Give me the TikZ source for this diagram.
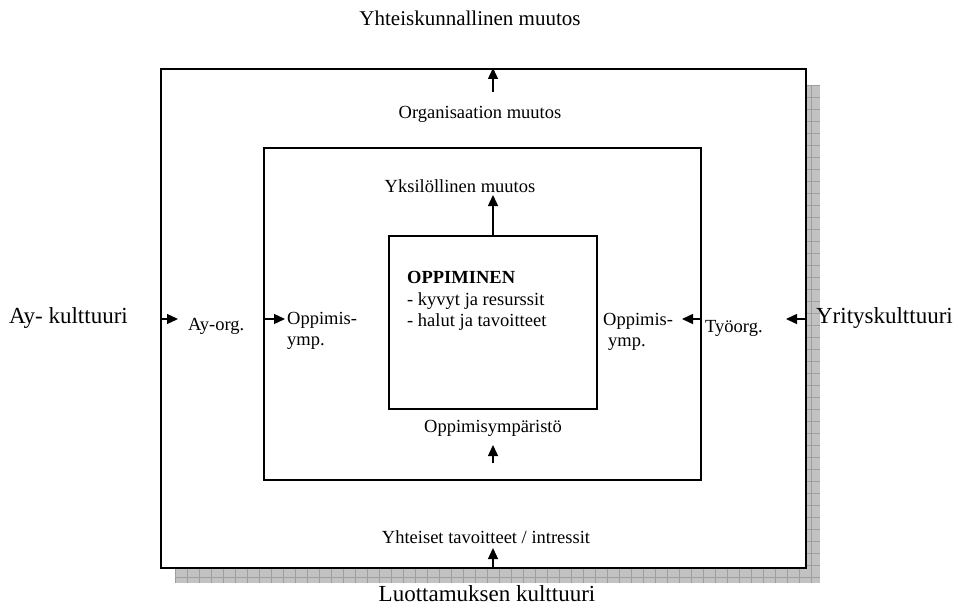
\documentclass[tikz,border=0pt]{standalone}
\usepackage{fontspec}
\setmainfont{Liberation Serif}
\usetikzlibrary{arrows.meta}
\begin{document}
\begin{tikzpicture}[x=1pt,y=-1pt,
  box/.style={draw, line width=1.5pt, inner sep=0pt},
  lbl/.style={inner sep=0pt, font=\fontsize{18.5}{21.5}\selectfont},
  big/.style={inner sep=0pt, font=\fontsize{23}{27}\selectfont},
  arr/.style={line width=1.3pt, -{Triangle[length=11pt,width=10pt]}},
  gridline/.style={black!38, line width=0.6pt}]
\useasboundingbox (0,0) rectangle (955,607);
% shadow with grid
\begin{scope}
  \clip (806,85) rectangle (820,583) (175,568) rectangle (820,583);
  \fill[black!24] (175,85) rectangle (820,583);
  \foreach \yy in {85,97,...,583} \draw[gridline] (175,\yy) -- (820,\yy);
  \foreach \xx in {175,187,...,820} \draw[gridline] (\xx,85) -- (\xx,583);
\end{scope}
% boxes
\node[box, line width=2pt, fill=white, minimum width=645pt, minimum height=499pt] (outer) at (483.5,318.5) {};
\node[box, minimum width=437pt, minimum height=332pt] (inner) at (482.5,314) {};
\node[box, minimum width=208pt, minimum height=173pt] (core) at (493,322.5) {};
% texts
\node[lbl, font=\fontsize{21}{25}\selectfont, anchor=base] (t1) at (470,26) {Yhteiskunnallinen muutos};
\node[lbl, anchor=base] (t2) at (480,118) {Organisaation muutos};
\node[lbl, anchor=base] (t3) at (460,192) {Yksilöllinen muutos};
\node[lbl, anchor=base west, font=\bfseries\fontsize{18.5}{21.5}\selectfont] (c1) at (407,283) {OPPIMINEN};
\node[lbl, anchor=base west] (c2) at (407,305) {- kyvyt ja resurssit};
\node[lbl, anchor=base west] (c3) at (407,326) {- halut ja tavoitteet};
\node[lbl, anchor=base] (t4) at (493,432) {Oppimisympäristö};
\node[lbl, anchor=base] (t5) at (486,543) {Yhteiset tavoitteet / intressit};
\node[big, anchor=base] (t6) at (487,601) {Luottamuksen kulttuuri};
\node[big, anchor=base west] (l1) at (9,323) {Ay- kulttuuri};
\node[lbl, anchor=base west] (l2) at (188,330) {Ay-org.};
\node[lbl, anchor=base west] (l3) at (287,324) {Oppimis-};
\node[lbl, anchor=base west] (l4) at (287,345) {ymp.};
\node[lbl, anchor=base west] (r3) at (603,325) {Oppimis-};
\node[lbl, anchor=base west] (r4) at (608,346) {ymp.};
\node[lbl, anchor=base west] (r2) at (705,332) {Työorg.};
\node[big, anchor=base east] (r1) at (953,323) {Yrityskulttuuri};
% arrows
\coordinate (up1) at (493,195);
\draw[arr] (core.north) -- (up1);
\coordinate (up2s) at (493,92);
\draw[arr] (up2s) -- (up2s |- outer.north);
\coordinate (up3s) at (493,463);
\coordinate (up3e) at (493,445);
\draw[arr] (up3s) -- (up3e);
\coordinate (up4e) at (493,548);
\draw[arr] (up4e |- outer.south) -- (up4e);
\coordinate (al1) at (178,319);
\draw[arr] (al1 -| outer.west) -- (al1);
\coordinate (al2) at (285,319);
\draw[arr] (al2 -| inner.west) -- (al2);
\coordinate (ar2) at (682,319);
\draw[arr] (ar2 -| inner.east) -- (ar2);
\coordinate (ar1) at (786,319);
\draw[arr] (ar1 -| outer.east) -- (ar1);
\end{tikzpicture}
\end{document}
